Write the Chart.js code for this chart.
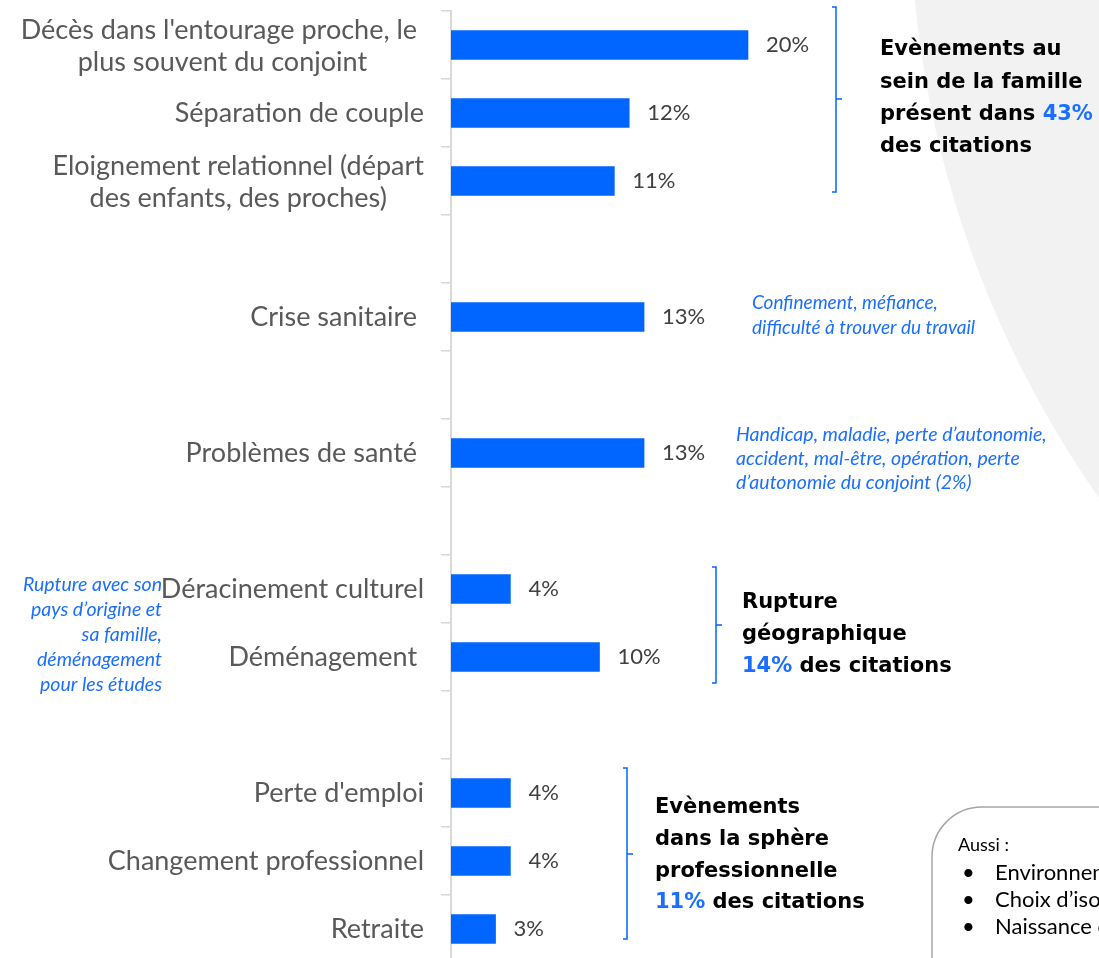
<!DOCTYPE html>
<html lang="fr">
<head>
<meta charset="utf-8">
<script src="https://cdn.jsdelivr.net/npm/chart.js@4.4.1/dist/chart.umd.min.js"></script>
<style>
  html, body { margin: 0; padding: 0; background: #fff; overflow: hidden; }
  #wrap { position: relative; width: 1099px; height: 975px; }
</style>
</head>
<body>
<div id="wrap"><canvas id="eventsChart"></canvas></div>
<script>
const categories = [
    ["Décès dans l'entourage proche, le ", "plus souvent du conjoint"],
    "Séparation de couple",
    ["Eloignement relationnel (départ", "des enfants, des proches)"],
    "",
    "Crise sanitaire ",
    "",
    "Problèmes de santé ",
    "",
    "Déracinement culturel",
    "Déménagement ",
    "",
    "Perte d'emploi",
    "Changement professionnel",
    "Retraite"
];
const values = [20, 12, 11, null, 13, null, 13, null, 4, 10, null, 4, 4, 3];

const FONT = "Lato, 'Open Sans', sans-serif";
const BOLD_FONT = "'DejaVu Sans', sans-serif";
const BLUE = '#0066ff';
const TEXT_BLUE = '#1a6fff';

// bracket groups: x, top, bottom, middle
const brackets = [
    [836, 7, 192, 99],
    [716, 567, 683, 625],
    [627, 768, 939, 854]
];

// bold summaries, each line = list of [text, colour]
const summaries = [
    { x: 880, y: [50, 83, 115, 147], lines: [
        [['Evènements au', '#000']],
        [['sein de la famille', '#000']],
        [['présent dans ', '#000'], ['43%', TEXT_BLUE]],
        [['des citations', '#000']]
    ]},
    { x: 742, y: [603, 635, 667], lines: [
        [['Rupture', '#000']],
        [['géographique', '#000']],
        [['14%', TEXT_BLUE], [' des citations', '#000']]
    ]},
    { x: 655, y: [808, 840, 872, 903], lines: [
        [['Evènements', '#000']],
        [['dans la sphère', '#000']],
        [['professionnelle', '#000']],
        [['11%', TEXT_BLUE], [' des citations', '#000']]
    ]}
];

const notes = [
    { x: 752, y: [303, 328], size: 19, align: 'left',
      lines: ['Confinement, méfiance,', 'difficulté à trouver du travail'] },
    { x: 736, y: [435, 459, 483], size: 19.5, align: 'left',
      lines: ['Handicap, maladie, perte d\u2019autonomie,', 'accident, mal-être, opération, perte', 'd\u2019autonomie du conjoint (2%)'] },
    { x: 162, y: [585, 610, 635, 660, 685], size: 19.5, align: 'right',
      lines: ['Rupture avec son', 'pays d\u2019origine et', 'sa famille,', 'déménagement', 'pour les études'] }
];

const alsoItems = ['Environnement de vie', 'Choix d\u2019isolement', 'Naissance d\u2019un enfant'];

const bgShape = {
    id: 'bgShape',
    beforeDraw(chart) {
        const ctx = chart.ctx;
        ctx.save();
        ctx.fillStyle = '#f2f2f2';
        ctx.beginPath();
        ctx.arc(1950, -100, 1040, 0, Math.PI * 2);
        ctx.fill();
        ctx.restore();
    }
};

const valueLabels = {
    id: 'valueLabels',
    afterDatasetsDraw(chart) {
        const ctx = chart.ctx;
        const meta = chart.getDatasetMeta(0);
        ctx.save();
        ctx.font = '22px ' + FONT;
        ctx.fillStyle = '#404040';
        ctx.textAlign = 'left';
        ctx.textBaseline = 'middle';
        meta.data.forEach((bar, i) => {
            if (values[i] == null) return;
            ctx.fillText(values[i] + '%', bar.x + 18, bar.y);
        });
        ctx.restore();
    }
};

const annotations = {
    id: 'annotations',
    afterDraw(chart) {
        const ctx = chart.ctx;
        const y = chart.scales.y;
        ctx.save();
        ctx.textBaseline = 'middle';

        // blue notes
        ctx.fillStyle = TEXT_BLUE;
        notes.forEach(n => {
            ctx.font = 'italic ' + n.size + 'px ' + FONT;
            ctx.textAlign = n.align;
            n.lines.forEach((l, k) => ctx.fillText(l, n.x, n.y[k]));
        });

        // category labels, lines centred inside a right aligned block
        ctx.font = '27px ' + FONT;
        ctx.fillStyle = '#595959';
        ctx.textAlign = 'center';
        const right = y.right - 27;
        chart.data.labels.forEach((lab, i) => {
            const lines = Array.isArray(lab) ? lab : [lab];
            const w = Math.max(...lines.map(l => ctx.measureText(l).width));
            const cx = right - w / 2;
            const yc = y.getPixelForValue(i) + (lines.length > 1 ? 1.5 : 0);
            lines.forEach((l, k) => ctx.fillText(l, cx, yc + (k - (lines.length - 1) / 2) * 32));
        });

        // brackets
        ctx.strokeStyle = BLUE;
        ctx.lineWidth = 1.5;
        brackets.forEach(([x, top, bottom, mid]) => {
            ctx.beginPath();
            ctx.moveTo(x - 4, top);
            ctx.lineTo(x, top);
            ctx.lineTo(x, bottom);
            ctx.lineTo(x - 4, bottom);
            ctx.moveTo(x, mid);
            ctx.lineTo(x + 6, mid);
            ctx.stroke();
        });

        // bold summaries
        ctx.font = 'bold 21px ' + BOLD_FONT;
        ctx.textAlign = 'left';
        summaries.forEach(s => {
            s.lines.forEach((segs, k) => {
                let x = s.x;
                segs.forEach(([t, c]) => {
                    ctx.fillStyle = c;
                    ctx.fillText(t, x, s.y[k]);
                    x += ctx.measureText(t).width;
                });
            });
        });

        // "Aussi" box
        ctx.strokeStyle = '#a6a6a6';
        ctx.fillStyle = '#fff';
        ctx.beginPath();
        ctx.roundRect(932, 807, 220, 220, 50);
        ctx.fill();
        ctx.stroke();
        ctx.fillStyle = '#000';
        ctx.font = '18px ' + FONT;
        ctx.fillText('Aussi :', 958, 845);
        ctx.font = '22px ' + FONT;
        alsoItems.forEach((t, k) => {
            ctx.fillText('\u2022', 962, 873 + k * 27);
            ctx.fillText(t, 995, 873 + k * 27);
        });
        ctx.restore();
    }
};

new Chart(document.getElementById('eventsChart'), {
    type: 'bar',
    data: {
        labels: categories,
        datasets: [{
            data: values,
            backgroundColor: BLUE,
            barThickness: 29
        }]
    },
    plugins: [bgShape, valueLabels, annotations],
    options: {
        indexAxis: 'y',
        responsive: true,
        maintainAspectRatio: false,
        animation: false,
        layout: { padding: { top: 11, bottom: 12, left: 0, right: 54 } },
        plugins: {
            legend: { display: false },
            tooltip: { enabled: false }
        },
        scales: {
            x: { display: false, min: 0, max: 40 },
            y: {
                offset: true,
                grid: {
                    offset: true,
                    drawOnChartArea: false,
                    drawTicks: true,
                    tickLength: 10,
                    color: '#d9d9d9',
                    lineWidth: 1.5
                },
                border: { color: '#d9d9d9', width: 2 },
                ticks: { color: 'rgba(0,0,0,0)', font: { size: 1 } },
                afterFit: s => { s.width = 451; }
            }
        }
    }
});
</script>
</body>
</html>
